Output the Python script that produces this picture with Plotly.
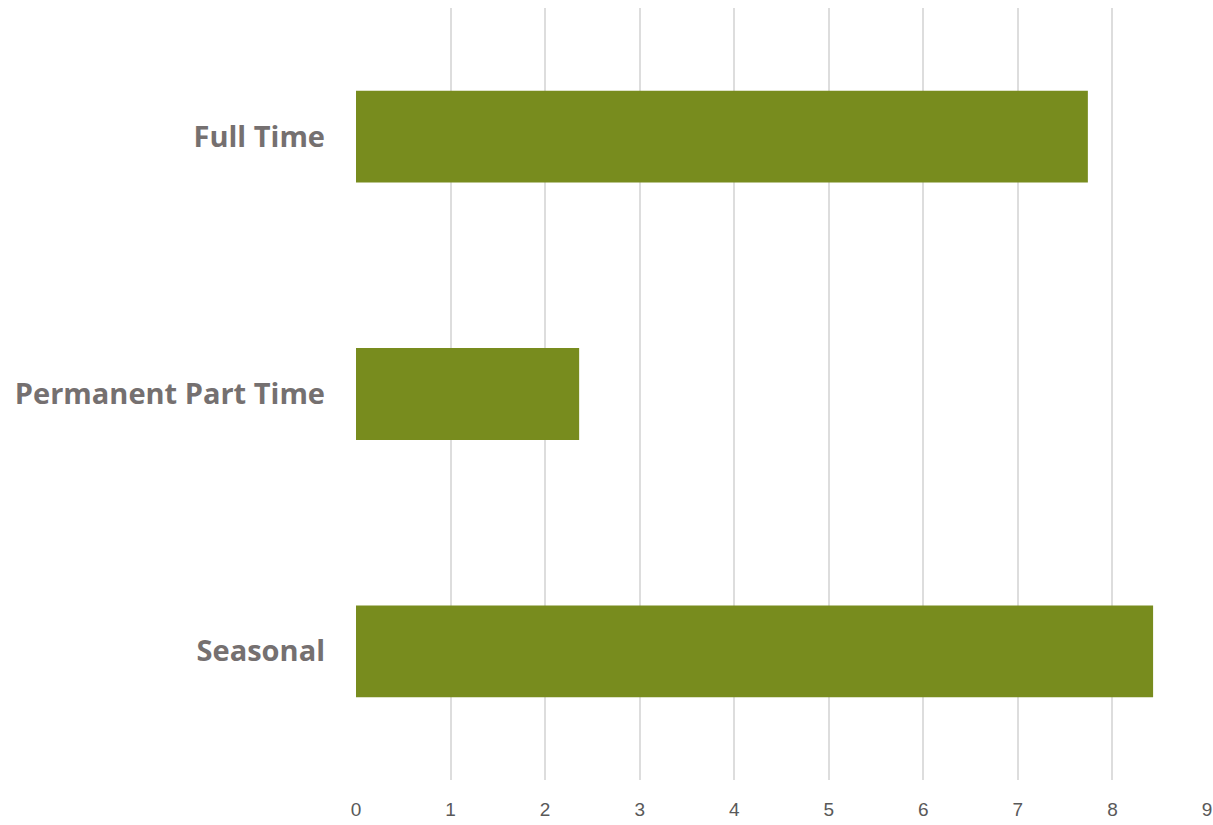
import plotly.graph_objects as go

categories = ["Full Time", "Permanent Part Time", "Seasonal"]
values = [7.74, 2.36, 8.43]
x_ticks = list(range(0, 10))

fig = go.Figure(
    go.Bar(
        x=values,
        y=categories,
        orientation="h",
        marker=dict(color="#788C1E", line=dict(width=0)),
        width=0.357,
    )
)

fig.update_layout(
    width=1213,
    height=825,
    margin=dict(l=356, r=6, t=8, b=45),
    plot_bgcolor="white",
    paper_bgcolor="white",
    showlegend=False,
    xaxis=dict(
        range=[0, 9],
        tickvals=x_ticks,
        showgrid=True,
        gridcolor="#DDDDDD",
        gridwidth=2,
        zeroline=False,
        showline=False,
        ticks="",
        automargin=False,
        tickfont=dict(family="Liberation Sans", size=19, color="#595959"),
        ticklabelstandoff=16,
    ),
    yaxis=dict(
        categoryorder="array",
        categoryarray=categories[::-1],
        showgrid=False,
        zeroline=False,
        showline=False,
        ticks="",
        automargin=False,
        tickfont=dict(family="Open Sans", size=29, color="#757070", weight="bold"),
        ticklabelstandoff=30,
    ),
)

fig.write_html("out.html")
